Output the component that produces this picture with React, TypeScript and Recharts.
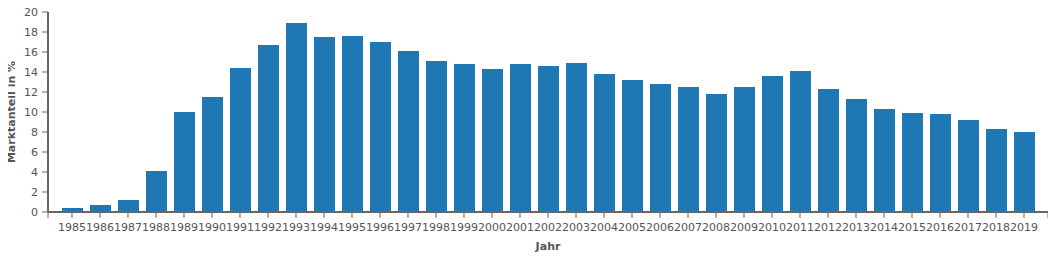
import React from "react";
import { BarChart, Bar, XAxis, YAxis } from "recharts";

const years: number[] = [
  1985, 1986, 1987, 1988, 1989, 1990, 1991, 1992, 1993, 1994, 1995, 1996,
  1997, 1998, 1999, 2000, 2001, 2002, 2003, 2004, 2005, 2006, 2007, 2008,
  2009, 2010, 2011, 2012, 2013, 2014, 2015, 2016, 2017, 2018, 2019,
];
const marktanteil: number[] = [
  0.4, 0.7, 1.2, 4.1, 10.0, 11.5, 14.4, 16.7, 18.9, 17.5, 17.6, 17.0, 16.1,
  15.1, 14.8, 14.3, 14.8, 14.6, 14.9, 13.8, 13.2, 12.8, 12.5, 11.8, 12.5,
  13.6, 14.1, 12.3, 11.3, 10.3, 9.9, 9.8, 9.2, 8.3, 8.0,
];
const yTicks: number[] = [0, 2, 4, 6, 8, 10, 12, 14, 16, 18, 20];
const xDomain: [number, number] = [1984.143, 2019.857];

const data = years.map((y, i) => ({ jahr: y, wert: marktanteil[i] }));
const xTicks = [xDomain[0], ...years, xDomain[1]];

const FONT = "'DejaVu Sans', sans-serif";
const AXIS = "#666";
const TEXT = "#555";

const XTick = (props: any) => {
  const { x, y, payload } = props;
  const v = payload.value;
  if (!Number.isInteger(v)) return <g />;
  return (
    <text x={x} y={y} dy="0.71em" textAnchor="middle" fill={TEXT} fontSize={11} fontFamily={FONT}>
      {v}
    </text>
  );
};

export default function App() {
  return (
    <BarChart
      width={1048}
      height={248}
      data={data}
      margin={{ top: 4, right: 8, bottom: 0, left: 0 }}
    >
      <XAxis
        dataKey="jahr"
        type="number"
        domain={xDomain}
        allowDataOverflow
        ticks={xTicks}
        interval={0}
        height={44}
        tickSize={6}
        tickMargin={5}
        tick={<XTick />}
        axisLine={{ stroke: AXIS, strokeWidth: 2 }}
        tickLine={{ stroke: AXIS }}
        label={(p: any) => {
          const vb = p.viewBox;
          return (
            <text
              x={vb.x + vb.width / 2}
              y={vb.y + 37.5}
              textAnchor="middle"
              fill={TEXT}
              fontSize={11}
              fontWeight="bold"
              fontFamily={FONT}
            >
              Jahr
            </text>
          );
        }}
      />
      <YAxis
        type="number"
        domain={[0, 20]}
        ticks={yTicks}
        interval={0}
        width={40}
        tickSize={6}
        tickMargin={4}
        tick={{ fill: TEXT, fontSize: 11, fontFamily: FONT }}
        axisLine={{ stroke: AXIS, strokeWidth: 2 }}
        tickLine={{ stroke: AXIS }}
        label={(p: any) => {
          const vb = p.viewBox;
          const cx = vb.x + 3;
          const cy = vb.y + vb.height / 2;
          return (
            <text
              x={cx}
              y={cy}
              transform={`rotate(-90, ${cx}, ${cy})`}
              textAnchor="middle"
              dominantBaseline="central"
              fill={TEXT}
              fontSize={11}
              fontWeight="bold"
              fontFamily={FONT}
            >
              Marktanteil in %
            </text>
          );
        }}
      />
      <Bar dataKey="wert" fill="#1f77b4" barSize={21} isAnimationActive={false} />
    </BarChart>
  );
}
